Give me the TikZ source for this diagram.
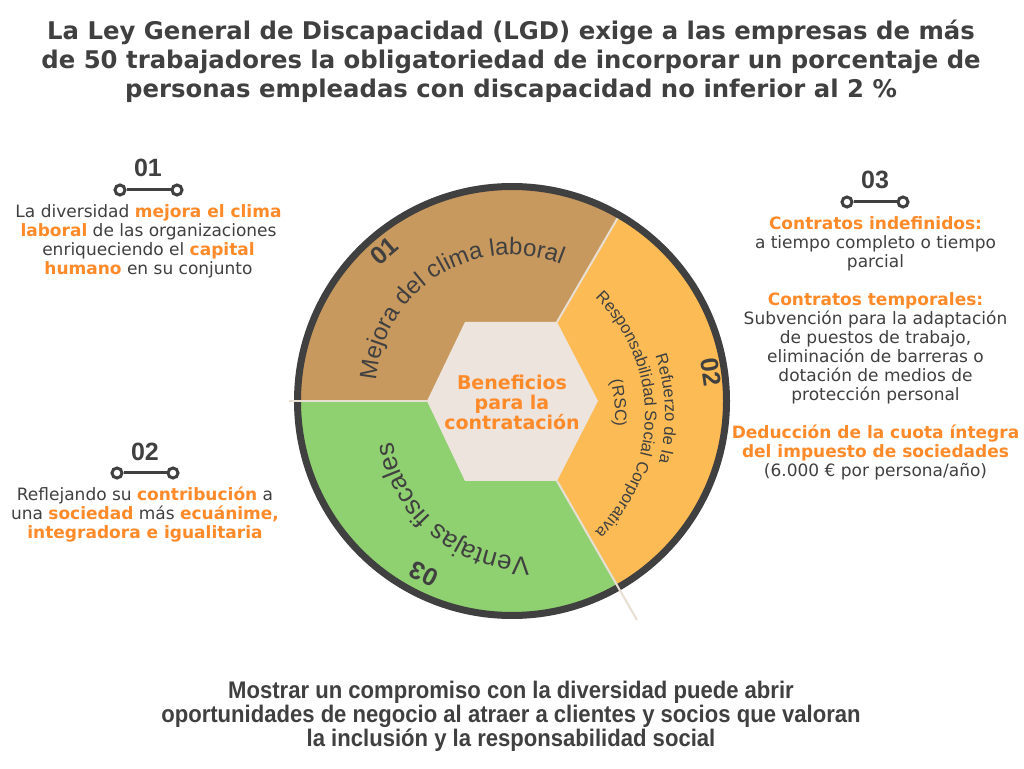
\documentclass[tikz,border=0pt]{standalone}
\usepackage{fontspec}
\setmainfont{DejaVu Sans}
\newfontfamily\arcsans{Liberation Sans}
\newfontfamily\condsans[FakeStretch=0.92]{Liberation Sans}
\usetikzlibrary{positioning,calc,decorations.text}

\definecolor{textgray}{RGB}{64,64,64}
\definecolor{accent}{RGB}{255,138,42}
\definecolor{brownfill}{RGB}{200,153,94}
\definecolor{orangefill}{RGB}{253,187,85}
\definecolor{greenfill}{RGB}{143,208,112}
\definecolor{hexfill}{RGB}{236,228,221}
\definecolor{divcolor}{RGB}{232,222,210}

\newcommand{\hl}[1]{\textbf{\color{accent}#1}}
\newcommand{\mejorafont}{\arcsans\fontsize{18pt}{18pt}\selectfont}
\newcommand{\ventajafont}{\arcsans\fontsize{19.5pt}{19.5pt}\selectfont}
\newcommand{\rscfont}{\arcsans\fontsize{12.4pt}{12.4pt}\selectfont}

\begin{document}
\begin{tikzpicture}[
    x=0.75pt, y=0.75pt, % 1 px de la imagen
    ring/.style={draw=textgray, line width=5.25pt}, % Aro exterior
    divider/.style={draw=divcolor, line width=1.5pt}, % Separadores
    ringnum/.style={font=\arcsans\bfseries\fontsize{18.75pt}{18.75pt}\selectfont, text=textgray, inner sep=0pt},
    header/.style={font=\arcsans\bfseries\fontsize{18.75pt}{18.75pt}\selectfont, text=textgray, inner sep=0pt},
    knob/.style={circle, draw=textgray, line width=2.25pt, fill=white, minimum size=7.5pt, inner sep=0pt},
    link/.style={draw=textgray, line width=2.25pt},
    sidetext/.style={align=center, text=textgray, font=\fontsize{12.75pt}{14.25pt}\selectfont, inner sep=0pt},
    arctext/.style={decorate, decoration={text along path, text align=center, text color=textgray, text={#1}}}
    ]

    \fill[white] (0,0) rectangle (1024,768);
    \useasboundingbox (0,0) rectangle (1024,768);

    % Titulo
    \node[align=center, text=textgray, inner sep=0pt,
          font=\bfseries\fontsize{18.26pt}{21.75pt}\selectfont] (title) at (511,707)
        {La Ley General de Discapacidad (LGD) exige a las empresas de más\\
         de 50 trabajadores la obligatoriedad de incorporar un porcentaje de\\
         personas empleadas con discapacidad no inferior al 2 \%};

    % Circulo y sectores
    \coordinate (mid) at (512,367);
    \fill[brownfill] (mid) -- ++(60:214.5) arc[start angle=60, end angle=180, radius=214.5] -- cycle;
    \fill[greenfill] (mid) -- ++(180:214.5) arc[start angle=180, end angle=300, radius=214.5] -- cycle;
    \fill[orangefill] (mid) -- ++(-60:214.5) arc[start angle=-60, end angle=60, radius=214.5] -- cycle;
    \draw[ring] (mid) circle[radius=214.5];

    % Hexagono central
    \coordinate (hx1) at (598,367);
    \coordinate (hx2) at (557,446);
    \coordinate (hx3) at (465,446);
    \coordinate (hx4) at (427,367);
    \coordinate (hx5) at (465,287);
    \coordinate (hx6) at (557,287);
    \coordinate (eNE) at ($(mid)+(60:211)$);
    \coordinate (eW) at (289,367);
    \coordinate (eSE) at (637,148);
    \draw[divider] (hx2) -- (eNE);
    \draw[divider] (hx4) -- (eW);
    \draw[divider] (hx6) -- (eSE);
    \fill[hexfill] (hx1) -- (hx2) -- (hx3) -- (hx4) -- (hx5) -- (hx6) -- cycle;

    \node[align=center, text=accent, inner sep=0pt,
          font=\bfseries\fontsize{14.25pt}{15pt}\selectfont] (center) at (512,366)
        {Beneficios\\para la\\contratación};

    % Textos curvos
    \coordinate (cMejora) at (511,378);
    \coordinate (cVentaja) at (528,348);
    \coordinate (cRsc) at (483,353);
    \path[arctext={|\mejorafont|Mejora del clima laboral}]
        ($(cMejora)+(182:135)$) arc[start angle=182, end angle=62, radius=135];
    \path[arctext={|\ventajafont|Ventajas fiscales}]
        ($(cVentaja)+(290:137)$) arc[start angle=290, end angle=170, radius=137];
    \path[arctext={|\rscfont|Refuerzo de la}]
        ($(cRsc)+(62:182)$) arc[start angle=62, end angle=-58, radius=182];
    \path[arctext={|\rscfont|Responsabilidad Social Corporativa}]
        ($(cRsc)+(60:162)$) arc[start angle=60, end angle=-60, radius=162];
    \path[arctext={|\rscfont|(RSC)}]
        ($(cRsc)+(65:132)$) arc[start angle=65, end angle=-55, radius=132];

    % Numeros del aro
    \node[ringnum, rotate=40.5] (n1) at (384,517) {01};
    \node[ringnum, rotate=-81.7] (n2) at (711,396) {02};
    \node[ringnum, rotate=153] (n3) at (424,194) {03};

    % Bloque 01
    \node[header] (h1) at (148,600) {01};
    \node[knob] (k1a) at (120,578) {};
    \node[knob] (k1b) at (177,578) {};
    \draw[link] (k1a) -- (k1b);
    \node[sidetext] (t1) at (148.5,527)
        {La diversidad \hl{mejora el clima}\\
         \hl{laboral} de las organizaciones\\
         enriqueciendo el \hl{capital}\\
         \hl{humano} en su conjunto};

    % Bloque 02
    \node[header] (h2) at (145,316) {02};
    \node[knob] (k2a) at (117,295) {};
    \node[knob] (k2b) at (173,295) {};
    \draw[link] (k2a) -- (k2b);
    \node[sidetext] (t2) at (145,253)
        {Reflejando su \hl{contribución} a\\
         una \hl{sociedad} más \hl{ecuánime,}\\
         \hl{integradora e igualitaria}};

    % Bloque 03
    \node[header] (h3) at (875,588) {03};
    \node[knob] (k3a) at (847,566) {};
    \node[knob] (k3b) at (903,566) {};
    \draw[link] (k3a) -- (k3b);
    \node[sidetext] (t3) at (875.5,419.5)
        {\hl{Contratos indefinidos:}\\
         a tiempo completo o tiempo\\
         parcial\\[14.25pt]
         \hl{Contratos temporales:}\\
         Subvención para la adaptación\\
         de puestos de trabajo,\\
         eliminación de barreras o\\
         dotación de medios de\\
         protección personal\\[14.25pt]
         \hl{Deducción de la cuota íntegra}\\
         \hl{del impuesto de sociedades}\\
         (6.000 € por persona/año)};

    % Pie
    \node[align=center, text=textgray, inner sep=0pt,
          font=\condsans\bfseries\fontsize{18pt}{16.3pt}\selectfont] (footer) at (511,52)
        {Mostrar un compromiso con la diversidad puede abrir\\
         oportunidades de negocio al atraer a clientes y socios que valoran\\
         la inclusión y la responsabilidad social};

\end{tikzpicture}
\end{document}
